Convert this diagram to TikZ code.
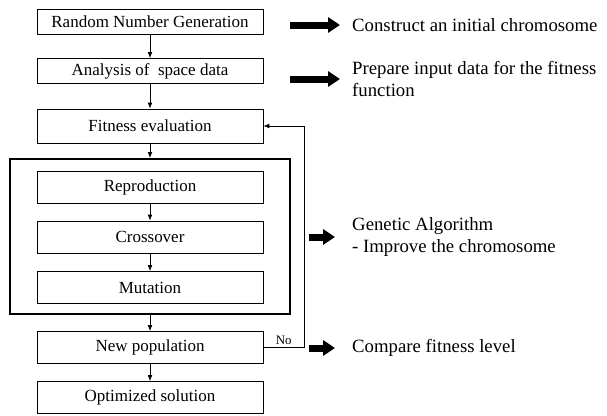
\documentclass[tikz,border=0pt]{standalone}
\usepackage{fontspec}
\setmainfont{Liberation Serif}
\usetikzlibrary{arrows.meta}

\def\px{0.03cm}

\begin{document}
\begin{tikzpicture}[
  x=\px, y=-\px,
  stage/.style={draw=black,line width=0.8pt,minimum width=6.78cm,
    minimum height=0.96cm,inner sep=0pt,font=\fontsize{14.5}{16}\selectfont},
  gaframe/.style={draw=black,line width=1.7pt,minimum width=8.4cm,
    minimum height=4.65cm,inner sep=0pt},
  flow/.style={line width=0.6pt,-{Latex[length=5pt,width=4pt]}},
  fatarrow/.style={line width=0.21cm,-{Triangle[length=0.36cm,width=0.45cm]}},
  note/.style={anchor=west,align=left,inner sep=0pt,
    font=\fontsize{16}{19}\selectfont}]
  \useasboundingbox (0,0) rectangle (607,416);

% Flow chart
  \node[stage,minimum height=0.75cm] (rng) at (150,22) {Random Number Generation};
  \node[stage,minimum height=0.75cm] (asd) at (150,71) {Analysis of~ space data};
  \node[stage,minimum height=1.02cm] (fit) at (150,126) {Fitness evaluation};
  \node[gaframe] (ga) at (150,236.5) {};
  \node[stage] (rep) at (150,187) {Reproduction};
  \node[stage] (cro) at (150,237) {Crossover};
  \node[stage] (mut) at (150,287.5) {Mutation};
  \node[stage] (newpop) at (150,347.5) {New population};
  \node[stage] (opt) at (150,397.5) {Optimized solution};

  \draw[flow] (rng) -- (asd);
  \draw[flow] (asd) -- (fit);
  \draw[flow] (fit) -- (ga);
  \draw[flow] (rep) -- (cro);
  \draw[flow] (cro) -- (mut);
  \draw[flow] (ga) -- (newpop);
  \draw[flow] (newpop) -- (opt);

  % loop back when the fitness is not reached
  \coordinate (back) at (304,347.5);
  \draw[flow] (newpop.east) -- node[above=-1pt,font=\fontsize{11}{12}\selectfont] {No}
    (back) |- (fit.east);

% Notes on the right
  \node[note] (nrng) at (352,25) {Construct an initial chromosome};
  \node[note] (nasd) at (352,79) {Prepare input data for the fitness\\function};
  \node[note] (nga) at (352,237) {Genetic Algorithm\\- Improve the chromosome};
  \node[note] (nnew) at (352,348) {Compare fitness level};
  \foreach \n/\s/\e in {nrng/290/340,nasd/290/340,nga/309/335,nnew/309/335}
    \draw[fatarrow] (\s,0 |- \n.west) -- (\e,0 |- \n.west);
\end{tikzpicture}
\end{document}
